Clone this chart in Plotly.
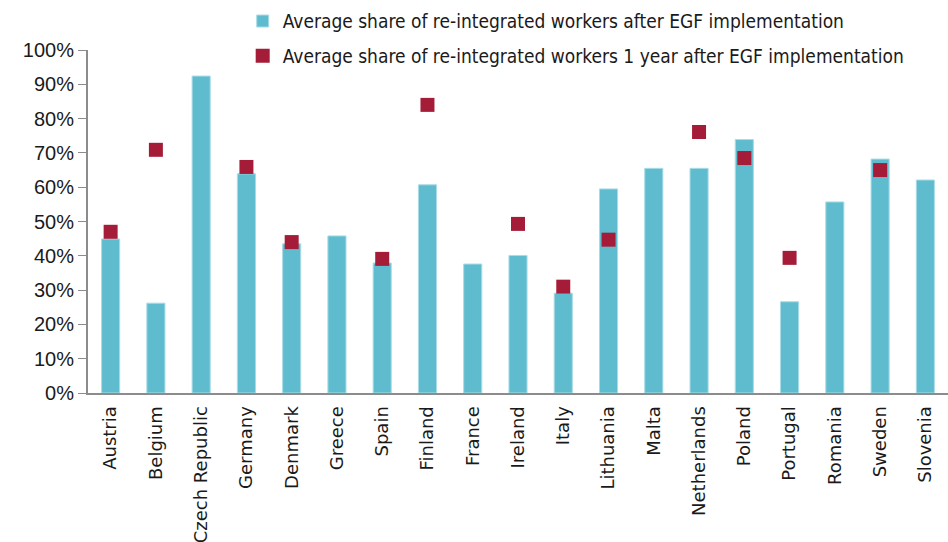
import plotly.graph_objects as go

countries = ["Austria", "Belgium", "Czech Republic", "Germany", "Denmark", "Greece", "Spain",
             "Finland", "France", "Ireland", "Italy", "Lithuania", "Malta", "Netherlands",
             "Poland", "Portugal", "Romania", "Sweden", "Slovenia"]
after_impl = [0.449, 0.262, 0.924, 0.639, 0.435, 0.458, 0.379, 0.607, 0.376, 0.401, 0.291,
              0.595, 0.655, 0.655, 0.739, 0.266, 0.557, 0.682, 0.621]
one_year_after = [0.47, 0.709, None, 0.659, 0.440, None, 0.391, 0.840, None, 0.493, 0.310,
                  0.447, None, 0.761, 0.685, 0.394, None, 0.650, None]

series_names = ["Average share of re-integrated workers after EGF implementation",
                "Average share of re-integrated workers 1 year after EGF implementation"]
y_ticks = [0, 0.1, 0.2, 0.3, 0.4, 0.5, 0.6, 0.7, 0.8, 0.9, 1.0]
y_labels = ["0%", "10%", "20%", "30%", "40%", "50%", "60%", "70%", "80%", "90%", "100%"]

fig = go.Figure()
fig.add_trace(go.Bar(
    x=countries, y=after_impl, name=series_names[0], legendgroup="a",
    marker=dict(color="#5FBCCE", line=dict(color="#A9DCE6", width=1)),
))
fig.add_trace(go.Scatter(
    x=countries, y=one_year_after, name=series_names[1], legendgroup="b",
    mode="markers", marker=dict(symbol="square", size=14, color="#A51C38"),
))

fig.update_layout(
    width=948, height=542,
    margin=dict(l=88, r=0, t=50, b=149, autoexpand=False),
    plot_bgcolor="white", paper_bgcolor="white",
    bargap=0.6,
    showlegend=True,
    legend=dict(
        xref="container", yref="container",
        x=0.256, xanchor="left", y=0.996, yanchor="top",
        font=dict(family="Liberation Sans Narrow, DejaVu Sans Condensed, sans-serif", size=19, color="#1a1a1a"),
        tracegroupgap=7, itemwidth=30, bgcolor="rgba(0,0,0,0)",
    ),
    xaxis=dict(
        range=[-0.5, len(countries) - 0.5],
        showline=True, linecolor="#8c8c8c", linewidth=2, showgrid=False,
        tickangle=-90, ticks="", ticklabelstandoff=4, automargin=False,
        tickfont=dict(family="DejaVu Sans", size=18, color="#1a1a1a"),
    ),
    yaxis=dict(
        range=[0, 1.0], tickvals=y_ticks, ticktext=y_labels, automargin=False,
        showline=True, linecolor="#8c8c8c", linewidth=2, showgrid=False,
        ticks="outside", ticklen=8, tickcolor="#8c8c8c", tickwidth=1,
        tickfont=dict(family="Liberation Sans, sans-serif", size=20, color="#1a1a1a"),
        zeroline=False,
    ),
)

fig.write_html("out.html", config={"displayModeBar": False},
               post_script="document.body.style.margin='0';document.body.style.overflow='hidden';")
